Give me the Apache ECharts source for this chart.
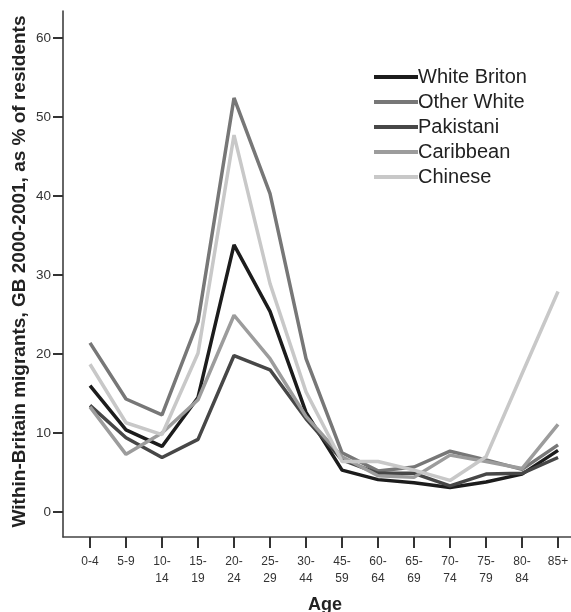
<!DOCTYPE html>
<html>
<head>
<meta charset="utf-8">
<script src="https://cdn.jsdelivr.net/npm/echarts@6/dist/echarts.min.js"></script>
<style>html,body{margin:0;padding:0;background:#fff}#c{width:571px;height:612px}</style>
</head>
<body>
<div id="c"></div>
<script>
const categories = ['0-4','5-9','10-\n14','15-\n19','20-\n24','25-\n29','30-\n44','45-\n59','60-\n64','65-\n69','70-\n74','75-\n79','80-\n84','85+'];
const yTicks = [0,10,20,30,40,50,60];
const whiteBriton = [16.0,10.4,8.3,14.5,33.8,25.4,12.6,5.3,4.1,3.7,3.1,3.8,4.8,7.8];
const otherWhite  = [21.4,14.3,12.3,24.1,52.4,40.3,19.4,7.5,5.2,5.7,7.7,6.6,5.4,8.5];
const pakistani   = [13.5,9.4,6.9,9.2,19.8,18.0,11.8,6.6,4.9,4.9,3.3,4.8,4.9,6.9];
const caribbean   = [13.3,7.3,10.0,14.2,24.9,19.4,12.1,7.0,4.6,4.4,7.2,6.4,5.5,11.1];
const chinese     = [18.7,11.3,9.8,20.1,47.7,28.9,15.2,6.4,6.4,5.3,4.0,7.0,17.5,27.9];
const seriesDefs = [
  {name:'White Briton', data: whiteBriton, color:'#1c1c1c'},
  {name:'Other White', data: otherWhite, color:'#777777'},
  {name:'Pakistani', data: pakistani, color:'#474747'},
  {name:'Caribbean', data: caribbean, color:'#9c9c9c'},
  {name:'Chinese', data: chinese, color:'#c8c8c8'}
];
const font = 'Liberation Sans, Arial, sans-serif';
const chart = echarts.init(document.getElementById('c'));
chart.setOption({
  animation:false,
  backgroundColor:'#fff',
  grid:{left:63, right:0, top:11, bottom:75, containLabel:false, outerBoundsMode:'none'},
  legend:{
    orient:'vertical', left:369, top:62, itemWidth:44, itemHeight:4, itemGap:5,
    icon:'rect',
    textStyle:{fontFamily:font, fontSize:20, color:'#222', padding:[0,0,0,-5]},
    data: seriesDefs.map(s=>s.name)
  },
  xAxis:{
    type:'value', min:-0.75, max:13.36,
    name:'Age', nameLocation:'middle', nameGap:59,
    nameTextStyle:{fontFamily:font, fontSize:18, fontWeight:'bold', color:'#222', padding:[0,0,0,16]},
    axisLine:{show:true, onZero:false, lineStyle:{color:'#444', width:1.5}},
    axisTick:{show:true, length:11, lineStyle:{color:'#333', width:2}, customValues: categories.map((c,i)=>i)},
    axisLabel:{fontFamily:font, fontSize:12, color:'#333', margin:16, lineHeight:17,
      customValues: categories.map((c,i)=>i),
      formatter: v => categories[Math.round(v)]},
    splitLine:{show:false}
  },
  yAxis:{
    type:'value', min:-3.16, max:63.4,
    name:'Within-Britain migrants, GB 2000-2001, as % of residents',
    nameLocation:'middle', nameGap:34, nameRotate:90, nameMoveOverlap:false,
    nameTextStyle:{fontFamily:font, fontSize:19, fontWeight:'bold', color:'#222', padding:[0,0,0,5]},
    axisLine:{show:true, onZero:false, lineStyle:{color:'#333', width:1.5}},
    axisTick:{show:true, length:10, lineStyle:{color:'#333', width:2}, customValues: yTicks},
    axisLabel:{fontFamily:font, fontSize:13.5, color:'#333', margin:12, customValues: yTicks},
    splitLine:{show:false}
  },
  series: seriesDefs.map(s=>({
    name:s.name, type:'line', symbol:'none', color:s.color,
    lineStyle:{color:s.color, width:3.5},
    data: s.data.map((v,i)=>[i,v])
  }))
});
</script>
</body>
</html>
